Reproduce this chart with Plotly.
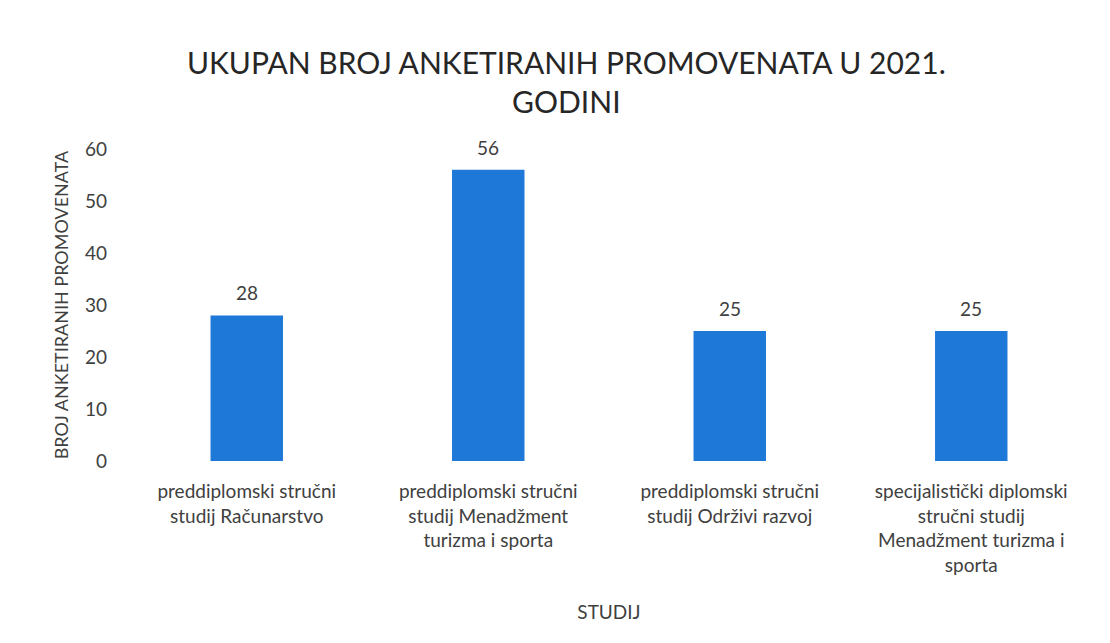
import plotly.graph_objects as go

categories = [
    "preddiplomski stručni<br>studij Računarstvo",
    "preddiplomski stručni<br>studij Menadžment<br>turizma i sporta",
    "preddiplomski stručni<br>studij Održivi razvoj",
    "specijalistički diplomski<br>stručni studij<br>Menadžment turizma i<br>sporta",
]
values = [28, 56, 25, 25]
y_ticks = [0, 10, 20, 30, 40, 50, 60]

FONT = "Lato, Carlito, Calibri, sans-serif"
TXT = "#404040"

fig = go.Figure(go.Bar(
    x=categories, y=values,
    marker=dict(color="#1E78D7", line=dict(width=0)),
    width=0.30,
    hoverinfo="x+y",
))

for c, v in zip(categories, values):
    fig.add_annotation(x=c, y=v, text=str(v), showarrow=False, yanchor="bottom",
                       yshift=9, font=dict(family=FONT, size=19, color=TXT))

fig.update_layout(
    width=1110, height=643,
    margin=dict(l=118, r=26, t=141, b=190),
    paper_bgcolor="white", plot_bgcolor="white",
    title=dict(text="UKUPAN BROJ ANKETIRANIH PROMOVENATA U 2021.<br>GODINI",
               x=0.503, xanchor="center", y=1 - 66/643, yanchor="middle", yref="container",
               font=dict(family=FONT, size=30, color="#262626")),
    showlegend=False,
    bargap=0.7,
)
fig.update_xaxes(
    showline=False, showgrid=False, ticks="", tickfont=dict(family=FONT, size=19, color=TXT),
    ticklabelstandoff=17,
    title=dict(text="STUDIJ", font=dict(family=FONT, size=19, color=TXT), standoff=30),
    tickangle=0,
)
fig.update_yaxes(
    range=[0, 60], tickvals=y_ticks, showline=False, showgrid=False, zeroline=False,
    tickfont=dict(family=FONT, size=19, color=TXT), ticks="", ticklabelstandoff=18,
    title=dict(text="BROJ ANKETIRANIH PROMOVENATA", font=dict(family=FONT, size=18, color=TXT), standoff=11),
)

fig.write_html("out.html")
